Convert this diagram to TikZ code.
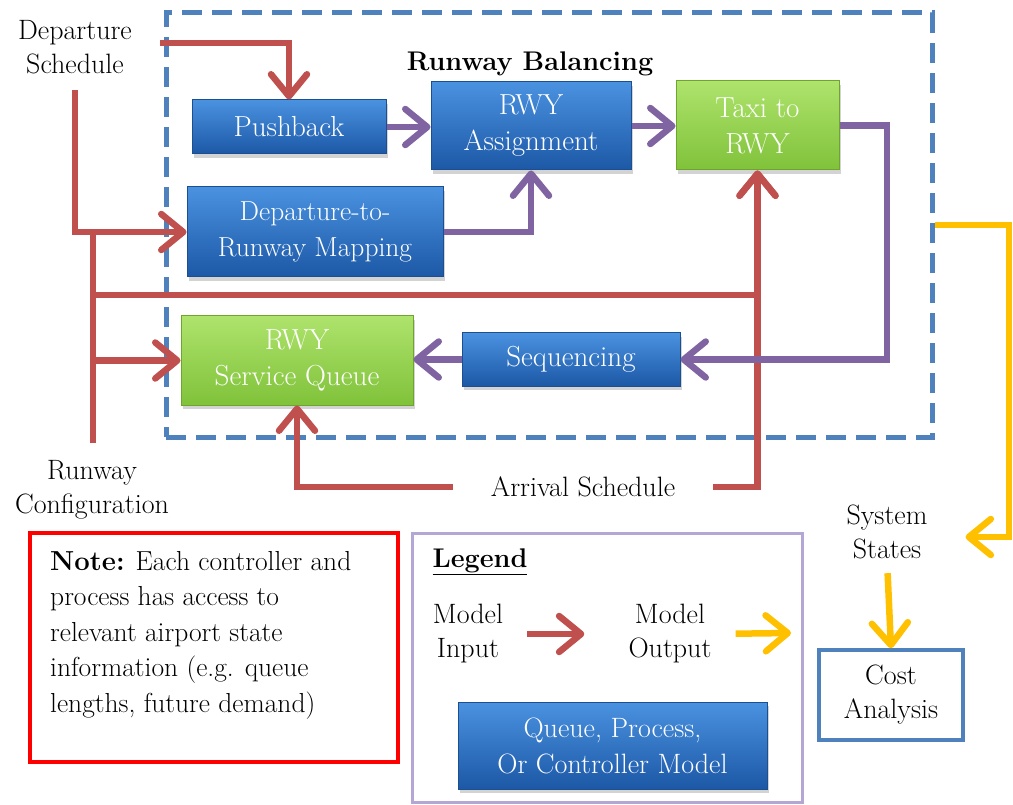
\documentclass[tikz,border=0pt]{standalone}
\usetikzlibrary{arrows.meta,shadows}
\definecolor{cred}{HTML}{C0504D}
\definecolor{cpurple}{HTML}{8064A2}
\definecolor{cyellow}{HTML}{FFC000}
\definecolor{cblue}{HTML}{4F81BD}
\definecolor{btop}{HTML}{4A92E0}
\definecolor{bbot}{HTML}{1C58A6}
\definecolor{bdraw}{HTML}{1B4F8F}
\definecolor{gtop}{HTML}{AEE36C}
\definecolor{gbot}{HTML}{80C23A}
\definecolor{gdraw}{HTML}{6FA52F}
\definecolor{clegend}{HTML}{B4A7D6}
\begin{document}
\begin{tikzpicture}[x=1pt,y=-1pt,
  font=\rmfamily\fontsize{28}{34}\selectfont,
  procbox/.style={inner sep=0pt, text=white, align=center, draw=bdraw, line width=1pt,
    top color=btop, bottom color=bbot, font=\rmfamily\fontsize{29}{36}\selectfont,
    drop shadow={shadow xshift=2pt,shadow yshift=-4pt,opacity=0.35}},
  greenbox/.style={procbox, draw=gdraw, top color=gtop, bottom color=gbot},
  lbl/.style={inner sep=0pt, align=center, text=black},
  tip/.style={-{Straight Barb[length=22pt,width=36pt,round]}},
  redline/.style={draw=cred, line width=6.5pt},
  redarrow/.style={redline, tip},
  parrow/.style={draw=cpurple, line width=6.5pt, tip},
  yarrow/.style={draw=cyellow, line width=6.5pt, tip}]
\useasboundingbox (0,0) rectangle (1013,805);

% dashed runway balancing region
\node[draw=cblue, line width=5pt, dash pattern=on 20pt off 10pt, minimum width=766pt,
  minimum height=424pt, inner sep=0pt] (rb) at (549,225) {};

% text labels
\node[lbl] (dep) at (75,47) {Departure\\Schedule};
\node[lbl] (rwc) at (92,490) {Runway\\Configuration};
\node[lbl, font=\rmfamily\fontsize{27}{34}\selectfont\bfseries] (rbt) at (530,64) {Runway Balancing};
\node[lbl] (arr) at (583,487) {Arrival Schedule};
\node[lbl] (ss) at (887,532) {System\\States};

% process boxes
\node[procbox, minimum width=194pt, minimum height=54pt] (push) at (289,127) {Pushback};
\node[procbox, minimum width=200pt, minimum height=88pt] (asg) at (531,126) {RWY\\Assignment};
\node[greenbox, minimum width=163pt, minimum height=89pt] (taxi) at (757.5,125.5) {Taxi to\\RWY};
\node[procbox, minimum width=256pt, minimum height=90pt, font=\rmfamily\fontsize{27.5}{36}\selectfont] (map) at (315,232) {Departure-to-\\Runway Mapping};
\node[greenbox, minimum width=232pt, minimum height=89pt] (queue) at (297,360.5) {RWY\\Service Queue};
\node[procbox, minimum width=218pt, minimum height=53pt] (seq) at (571,359.5) {Sequencing};

% cost analysis
\node[draw=cblue, line width=3.5pt, minimum width=144pt, minimum height=90pt, align=center,
  inner sep=0pt] (cost) at (891,695) {Cost\\Analysis};

% note box
\node[draw=red, line width=3.5pt, minimum width=368pt, minimum height=229pt, inner sep=0pt]
  (note) at (214,647.5) {};
\node[lbl, anchor=north west, align=left, font=\rmfamily\fontsize{27.5}{35.5}\selectfont] (notet) at (50,551)
  {\textbf{Note:} Each controller and\\process has access to\\relevant airport state\\information (e.g. queue\\lengths, future demand)};

% legend
\node[draw=clegend, line width=3pt, minimum width=390pt, minimum height=269pt, inner sep=0pt]
  (leg) at (607,668) {};
\node[lbl, font=\rmfamily\fontsize{27}{34}\selectfont\bfseries] (legt) at (480,562) {\underline{Legend}};
\node[lbl] (mi) at (468,634) {Model\\Input};
\node[lbl] (mo) at (670,634) {Model\\Output};
\node[procbox, minimum width=309pt, minimum height=87pt, font=\rmfamily\fontsize{28}{36}\selectfont] (lmodel) at (612.5,745.5) {Queue, Process,\\Or Controller Model};

% red connectors
\coordinate (dsA) at (160,43);
\coordinate (dsB) at (75,90);
\coordinate (rcB) at (93,443);
\coordinate (rcT) at (93,229);
\coordinate (j1) at (93,295);
\coordinate (j2) at (93,360.5);
\coordinate (arR) at (713,487);
\coordinate (arL) at (453,487);
\draw[redarrow] (dsA) -| (push.north);
\draw[redarrow] (dsB) |- (map.west);
\draw[redline] (rcB) -- (rcT);
\draw[redarrow] (j1) -| (taxi.south);
\draw[redarrow] (j2) -- (queue.west);
\draw[redarrow] (arR) -| (taxi.south);
\draw[redarrow] (arL) -| (queue.south);

% purple connectors
\coordinate (pc) at (887,125.5);
\draw[parrow] (push.east) -- (push.east -| asg.west);
\draw[parrow] (map.east) -| (asg.south);
\draw[parrow] (asg.east) -- (asg.east -| taxi.west);
\draw[parrow] (taxi.east) -- (pc) |- (seq.east);
\draw[parrow] (seq.west) -- (seq.west -| queue.east);

% yellow connectors
\coordinate (y1) at (1009,225);
\coordinate (y2) at (1009,537);
\draw[yarrow, shorten >=38pt] (rb.east) -- (y1) -- (y2) -- (y2 -| ss.east);
\draw[yarrow, shorten <=14pt] (ss.south) -- (cost.north);

% legend arrows
\coordinate (lgy) at (791,633);
\draw[redarrow, shorten <=24pt, shorten >=44pt] (mi) -- (mo);
\draw[yarrow, shorten <=24pt] (mo.east) -- (lgy);
\end{tikzpicture}
\end{document}
